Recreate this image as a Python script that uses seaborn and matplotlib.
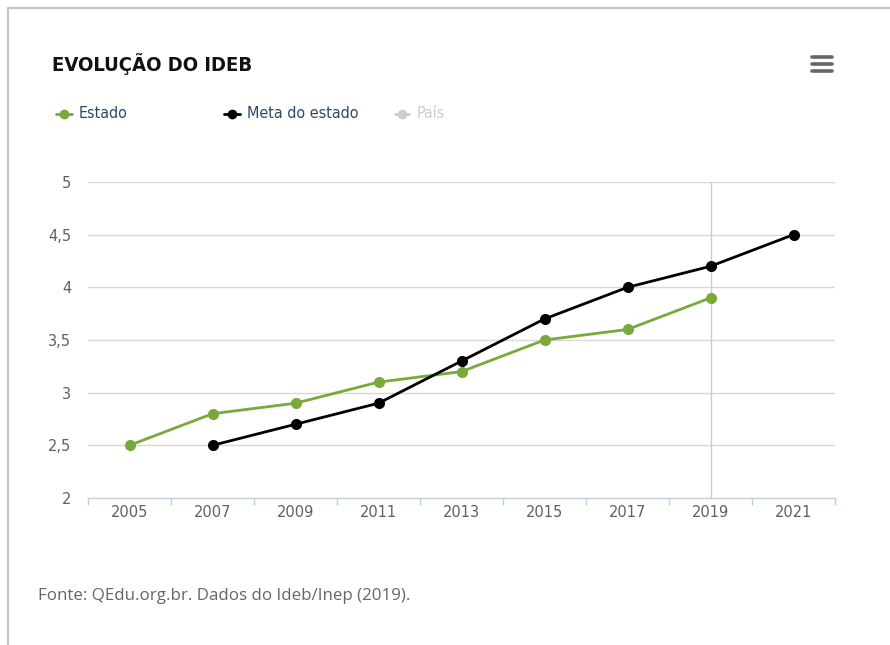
import matplotlib
matplotlib.use("Agg")
import matplotlib.pyplot as plt
from matplotlib.lines import Line2D
import seaborn as sns
import pandas as pd

years = ["2005", "2007", "2009", "2011", "2013", "2015", "2017", "2019", "2021"]
estado_years = ["2005", "2007", "2009", "2011", "2013", "2015", "2017", "2019"]
estado_vals = [2.5, 2.8, 2.9, 3.1, 3.2, 3.5, 3.6, 3.9]
meta_years = ["2007", "2009", "2011", "2013", "2015", "2017", "2019", "2021"]
meta_vals = [2.5, 2.7, 2.9, 3.3, 3.7, 4.0, 4.2, 4.5]
y_ticks = [2, 2.5, 3, 3.5, 4, 4.5, 5]
y_labels = ["2", "2,5", "3", "3,5", "4", "4,5", "5"]

green = "#78a93a"
black = "#000000"

sns.set_theme(style="white")
plt.rcParams["font.family"] = ["DejaVu Sans"]

W, H = 890, 645
fig = plt.figure(figsize=(W / 100, H / 100), dpi=100)
ax = fig.add_axes([88 / W, 1 - 498 / H, (835 - 88) / W, (498 - 182) / H])

pos = {y: i for i, y in enumerate(years)}
df_e = pd.DataFrame({"x": [pos[y] for y in estado_years], "v": estado_vals})
df_m = pd.DataFrame({"x": [pos[y] for y in meta_years], "v": meta_vals})

# crosshair at 2019
ax.axvline(pos["2019"], color="#cccccc", lw=1, zorder=1)

sns.lineplot(data=df_e, x="x", y="v", ax=ax, color=green, lw=2, marker="o",
             markersize=8, markeredgewidth=0, zorder=3)
sns.lineplot(data=df_m, x="x", y="v", ax=ax, color=black, lw=2, marker="o",
             markersize=8, markeredgewidth=0, zorder=4)

ax.set_xlim(-0.5, len(years) - 0.5)
ax.set_ylim(2, 5)
ax.set_yticks(y_ticks)
ax.set_yticklabels(y_labels)
ax.set_xticks(range(len(years)))
ax.set_xticklabels(years)
ax.set_xticks([i - 0.5 for i in range(len(years) + 1)], minor=True)
ax.set_xlabel("")
ax.set_ylabel("")

for yv in y_ticks[1:]:
    ax.axhline(yv, color="#d8d8d8", lw=1, zorder=0)

for s in ["top", "right", "left"]:
    ax.spines[s].set_visible(False)
ax.spines["bottom"].set_color("#c0d0e0")
ax.spines["bottom"].set_linewidth(1)

ax.tick_params(axis="x", which="major", bottom=True, length=0, pad=5, labelsize=10.5, labelcolor="#606060")
ax.tick_params(axis="x", which="minor", bottom=True, length=5, width=1, color="#c0d0e0", direction="out")
ax.tick_params(axis="y", length=0, pad=12, labelsize=10.5, labelcolor="#606060")
ax.set_facecolor("white")

# title
fig.text(52 / W, 1 - 64 / H, "EVOLUÇÃO DO IDEB", fontsize=14.5, color="#111111",
         family=["DejaVu Sans"], fontstretch="condensed", fontweight="semibold",
         va="center", ha="left")

# hamburger menu
for yy in (57, 64, 71):
    fig.add_artist(Line2D([812 / W, 832 / W], [1 - yy / H, 1 - yy / H], color="#666666", lw=2.6))

# legend
def leg(x0, label, color, tcolor, ls="-"):
    yy = 1 - 114 / H
    fig.add_artist(Line2D([x0 / W, (x0 + 16) / W], [yy, yy], color=color, lw=2, ls=ls))
    fig.add_artist(Line2D([(x0 + 8) / W], [yy], color=color, marker="o", markersize=7, markeredgewidth=0))
    fig.text((x0 + 23) / W, yy, label, fontsize=11.5, color=tcolor, va="center", ha="left",
             family=["DejaVu Sans"], fontstretch="condensed")

leg(56, "Estado", green, "#2b4a6a")
leg(224, "Meta do estado", black, "#2b4a6a")
leg(394, "País", "#cccccc", "#cccccc", ls=(0, (2, 2)))

# source
fig.text(38 / W, 1 - 596 / H, "Fonte: QEdu.org.br. Dados do Ideb/Inep (2019).", fontsize=12.2,
         color="#666666", family=["Open Sans", "DejaVu Sans"], va="center", ha="left")

# screenshot border
fig.add_artist(Line2D([8 / W, 8 / W], [0, 1 - 8 / H], color="#c4c4c4", lw=1.5))
fig.add_artist(Line2D([8 / W, 1], [1 - 8 / H, 1 - 8 / H], color="#c4c4c4", lw=1.5))

fig.savefig("out.png", dpi=100, facecolor="white")
